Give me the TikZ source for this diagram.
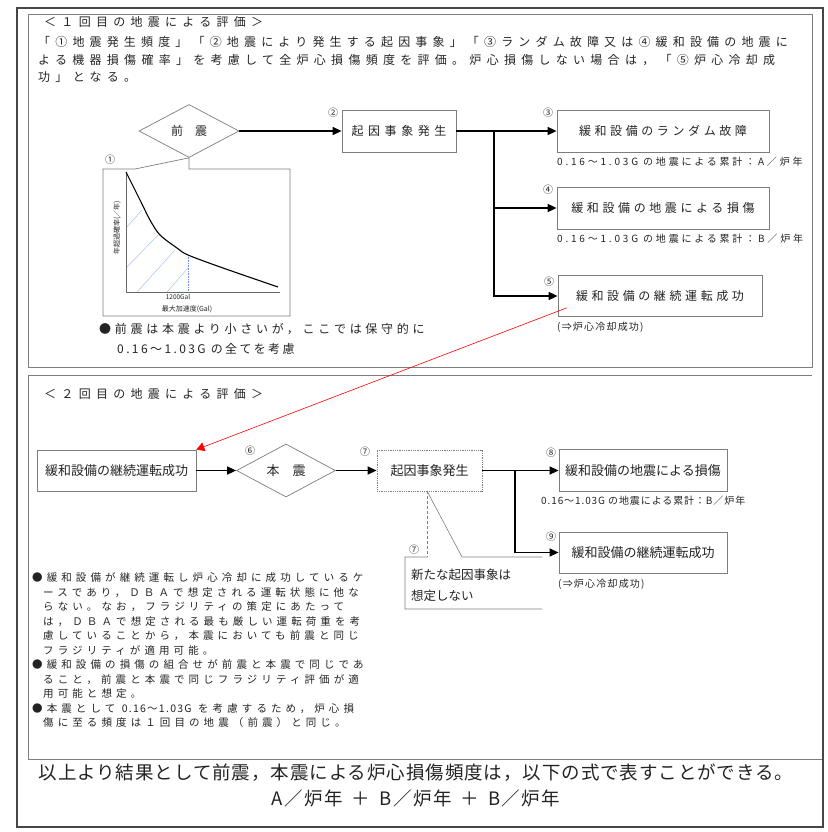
\documentclass[tikz,border=0pt]{standalone}
\usepackage{fontspec}
\setmainfont{Noto Sans CJK JP}
\usetikzlibrary{arrows.meta,positioning,shapes.geometric,calc}
\definecolor{FrameGray}{RGB}{70,70,70}
\definecolor{BoxGray}{RGB}{125,125,125}
\definecolor{TextGray}{RGB}{35,35,35}
\definecolor{HatchBlue}{RGB}{165,195,240}
\newcommand{\ls}[1]{\addfontfeature{LetterSpace=#1}}
\newcommand{\fs}[1]{\fontsize{#1}{#1}\selectfont}

\begin{document}
\begin{tikzpicture}[x=1pt,y=-1pt,
  txt/.style={inner sep=0pt,anchor=west,text=TextGray},
  evbox/.style={draw=BoxGray,line width=0.8pt,inner sep=0pt,text=TextGray},
  quake/.style={diamond,draw=BoxGray,line width=0.7pt,inner sep=0pt,text=TextGray},
  num/.style={inner sep=0pt,font=\fs{10},text=TextGray},
  flow/.style={-{Triangle[length=9pt,width=8pt]},line width=1.5pt},
  ]
  \useasboundingbox (0,0) rectangle (827,832);
  % frames
  \draw[FrameGray,line width=1.8pt] (17,8) rectangle (823,827);
  \draw[BoxGray,line width=0.8pt] (28,14) rectangle (812,367);
  \draw[BoxGray,line width=0.8pt] (812,375) -- (28,375) -- (28,759) -- (822,759);

  % first earthquake
  \node[txt,font=\fs{12}\ls{44}] (head1) at (44,22) {＜１回目の地震による評価＞};
  \node[txt,font=\fs{12}\ls{43}] (intro1) at (38,42) {「①地震発生頻度」「②地震により発生する起因事象」「③ランダム故障又は④緩和設備の地震に};
  \node[txt,font=\fs{12}\ls{44}] (intro2) at (38,60) {よる機器損傷確率」を考慮して全炉心損傷頻度を評価。炉心損傷しない場合は，「⑤炉心冷却成};
  \node[txt,font=\fs{12}\ls{44}] (intro3) at (38,77) {功」となる。};

  \node[quake,minimum width=100pt,minimum height=53pt,font=\fs{12}] (fore) at (189,131) {前　震};
  \node[evbox,minimum width=114pt,minimum height=42pt,font=\fs{12}\ls{38}] (init1) at (399,131) {起因事象発生};
  \node[evbox,minimum width=212pt,minimum height=42pt,font=\fs{12}\ls{30}] (rand) at (663,131) {緩和設備のランダム故障};
  \node[evbox,minimum width=212pt,minimum height=42pt,font=\fs{12}\ls{30}] (dmg1) at (663,208) {緩和設備の地震による損傷};
  \node[evbox,minimum width=204pt,minimum height=41pt,font=\fs{12}\ls{30}] (cont1) at (660,296) {緩和設備の継続運転成功};

  \node[num] (n2) at (333,113) {②};
  \node[num] (n3) at (548,113) {③};
  \node[num] (n4) at (548,190) {④};
  \node[num] (n5) at (549,282) {⑤};
  \node[num] (n1) at (110,160) {①};

  \node[txt,font=\fs{10}\ls{28}] (sumA) at (557,162) {0.16～1.03G の地震による累計：A／炉年};
  \node[txt,font=\fs{10}\ls{28}] (sumB) at (557,239) {0.16～1.03G の地震による累計：B／炉年};
  \node[txt,font=\fs{10}\ls{12}] (cool1) at (557,327) {(⇒炉心冷却成功)};

  \coordinate (split1) at (494,131);
  \draw[flow] (fore) -- (init1);
  \draw[flow] (init1) -- (rand);
  \draw[line width=1.5pt] (split1) -- (split1 |- cont1);
  \draw[flow] (split1) |- (dmg1.west);
  \draw[flow] (split1) |- (cont1.west);

  % hazard curve
  \draw[BoxGray,line width=0.7pt] (135,169) -- (fore.south) -- (fore.south |- 0,169)
    -- (290,169) -- (290,316) -- (103,316) -- (103,169) -- cycle;
  \draw[HatchBlue,line width=0.5pt] (126,228) -- (142,210) (126,268) -- (158,235)
    (137,292) -- (175,250) (167,292) -- (188,268);
  \draw[HatchBlue!70!blue,densely dotted,line width=0.6pt] (188,255) -- (188,292);
  \draw[black!60,line width=0.6pt] (126,172) -- (126,292) -- (280,292);
  \draw[black,line width=1.1pt] plot[smooth] coordinates {(126,172) (140,200) (150,220) (160,235) (177,248) (188,255) (223,268) (278,287)};
  \node[inner sep=0pt,font=\fs{6.5},text=TextGray] (gal) at (178,296.5) {1200Gal};
  \node[inner sep=0pt,font=\fs{7},text=TextGray] (xlab) at (187,309) {最大加速度(Gal)};
  \node[inner sep=0pt,font=\fs{7},text=TextGray,rotate=90] (ylab) at (117,228) {年超過確率(／年)};

  \node[txt,font=\fs{12}\ls{31}] (note1) at (99,329) {●前震は本震より小さいが，ここでは保守的に};
  \node[txt,font=\fs{12}\ls{20}] (note2) at (117,349) {0.16～1.03G の全てを考慮};

  % second earthquake
  \node[txt,font=\fs{12}\ls{44}] (head2) at (44,394) {＜２回目の地震による評価＞};
  \node[evbox,minimum width=159pt,minimum height=41pt,font=\fs{13}] (cont0) at (116.5,470.5) {緩和設備の継続運転成功};
  \node[quake,minimum width=99pt,minimum height=53pt,font=\fs{13}] (main) at (286,470.5) {本　震};
  \node[evbox,densely dotted,minimum width=105pt,minimum height=41pt,font=\fs{13}] (init2) at (429.5,470.5) {起因事象発生};
  \node[evbox,minimum width=168pt,minimum height=42pt,font=\fs{13}] (dmg2) at (643,470.5) {緩和設備の地震による損傷};
  \node[evbox,minimum width=168pt,minimum height=41pt,font=\fs{13}] (cont2) at (643,552.5) {緩和設備の継続運転成功};

  \node[num] (n6) at (250,451) {⑥};
  \node[num] (n7) at (365,452) {⑦};
  \node[num] (n8) at (551,453) {⑧};
  \node[num] (n9) at (551,537) {⑨};
  \node[num] (n7b) at (414,550) {⑦};

  \node[txt,font=\fs{10}\ls{9}] (sumB2) at (541,501) {0.16～1.03G の地震による累計：B／炉年};
  \node[txt,font=\fs{10}\ls{12}] (cool2) at (558,584) {(⇒炉心冷却成功)};

  \coordinate (split2) at (515,470.5);
  \draw[flow] (cont0) -- (main);
  \draw[flow] (main) -- (init2);
  \draw[flow] (init2) -- (dmg2);
  \draw[flow] (split2) |- (cont2.west);

  % callout: no new initiating event
  \coordinate (tip7) at (427,491);
  \draw[BoxGray,line width=0.6pt] (tip7) -- (462,557) -- (542,557)
    (427,557) -- (405,557) -- (405,609) -- (542,609);
  \draw[BoxGray,line width=0.6pt,densely dashed] (tip7) -- (427,557);
  \node[txt,font=\fs{12.5}] (newev1) at (411,575) {新たな起因事象は};
  \node[txt,font=\fs{12.5}] (newev2) at (411,596) {想定しない};

  \draw[red,line width=0.6pt,-{Triangle[length=8pt,width=9pt]}] ($(cont1.south west)+(9,-9)$) -- (cont0.north east);

  \foreach \t [count=\i] in {{●緩和設備が継続運転し炉心冷却に成功しているケ},
      {\hspace*{11pt}ースであり，ＤＢＡで想定される運転状態に他な},
      {\hspace*{11pt}らない。なお，フラジリティの策定にあたって},
      {\hspace*{11pt}は，ＤＢＡで想定される最も厳しい運転荷重を考},
      {\hspace*{11pt}慮していることから，本震においても前震と同じ},
      {\hspace*{11pt}フラジリティが適用可能。},
      {●緩和設備の損傷の組合せが前震と本震で同じであ},
      {\hspace*{11pt}ること，前震と本震で同じフラジリティ評価が適},
      {\hspace*{11pt}用可能と想定。},
      {●本震として {\ls{12}0.16～1.03G} を考慮するため，炉心損},
      {\hspace*{11pt}傷に至る頻度は１回目の地震（前震）と同じ。}} {
    \node[txt,font=\fs{10.5}\ls{39}] (bul\i) at (32,563.5+14.5*\i) {\t};
  }

  % result
  \node[inner sep=0pt,font=\fs{18.5}\ls{5},text=TextGray] (res1) at (416,773) {以上より結果として前震，本震による炉心損傷頻度は，以下の式で表すことができる。};
  \node[inner sep=0pt,font=\fs{18.5}\ls{8},text=TextGray] (res2) at (416,798) {A／炉年\hspace{9pt}＋\hspace{9pt}B／炉年\hspace{9pt}＋\hspace{9pt}B／炉年};
\end{tikzpicture}
\end{document}
